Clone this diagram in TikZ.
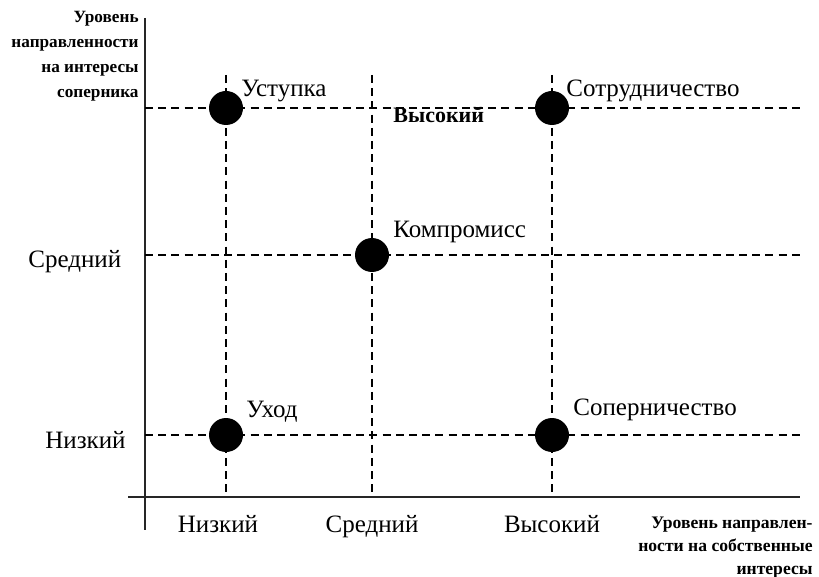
\documentclass[tikz,border=0pt]{standalone}
\usepackage{fontspec}
\setmainfont{Liberation Serif}
\begin{document}
\begin{tikzpicture}[x=0.5pt,y=-0.5pt,
  axis/.style={line width=1.2pt,black!85},
  grid/.style={line width=1pt,dash pattern=on 4pt off 2.6pt},
  dot/.style={circle,fill=black,inner sep=0pt,minimum size=17pt},
  lbl/.style={font=\fontsize{12.5}{15}\selectfont,inner sep=0pt},
  ttl/.style={font=\fontsize{8.6}{12.5}\selectfont\bfseries,inner sep=0pt,align=right}]
\useasboundingbox (0,0) rectangle (819,577);
% axes
\coordinate (yt) at (145,18);
\coordinate (yb) at (145,530);
\coordinate (xl) at (128,497);
\coordinate (xr) at (800,497);
\draw[axis] (yt) -- (yb);
\draw[axis] (xl) -- (xr);
% grid ends
\coordinate (h1l) at (145,108); \coordinate (h1r) at (800,108);
\coordinate (h2l) at (145,255); \coordinate (h2r) at (800,255);
\coordinate (h3l) at (145,435); \coordinate (h3r) at (800,435);
\coordinate (v1t) at (226,75); \coordinate (v1b) at (226,497);
\coordinate (v2t) at (372,75); \coordinate (v2b) at (372,497);
\coordinate (v3t) at (552,75); \coordinate (v3b) at (552,497);
\draw[grid] (h1l) -- (h1r);
\draw[grid] (h2l) -- (h2r);
\draw[grid] (h3l) -- (h3r);
\draw[grid] (v1t) -- (v1b);
\draw[grid] (v2t) -- (v2b);
\draw[grid] (v3t) -- (v3b);
% dots
\node[dot] (d1) at (226,108) {};
\node[dot] (d2) at (552,108) {};
\node[dot] (d3) at (372,255) {};
\node[dot] (d4) at (226,435) {};
\node[dot] (d5) at (552,435) {};
% point labels
\node[lbl,anchor=base west] (l1) at (241,97) {Уступка};
\node[lbl,anchor=base west] (l2) at (566,97) {Сотрудничество};
\node[lbl,anchor=base west] (l3) at (393,238) {Компромисс};
\node[lbl,anchor=base west] (l4) at (246,417) {Уход};
\node[lbl,anchor=base west] (l5) at (573,415) {Соперничество};
\node[font=\fontsize{11}{13}\selectfont\bfseries,inner sep=0pt,anchor=base west] (hi) at (393,123) {Высокий};
% axis level labels
\node[lbl,anchor=base west] (ym) at (28,268) {Средний};
\node[lbl,anchor=base west] (yl) at (45,448) {Низкий};
\node[lbl,anchor=base] (xlo) at (218,532) {Низкий};
\node[lbl,anchor=base] (xmid) at (372,532) {Средний};
\node[lbl,anchor=base] (xhi) at (552,532) {Высокий};
% axis titles
\node[ttl,anchor=base east] (yttl) at (139,98) {Уровень\\направленности\\на интересы\\соперника};
\node[ttl,anchor=base east,font=\fontsize{8.8}{11.3}\selectfont\bfseries] (xttl) at (813,574) {Уровень направлен-\\ности на собственные\\интересы};
\end{tikzpicture}
\end{document}
